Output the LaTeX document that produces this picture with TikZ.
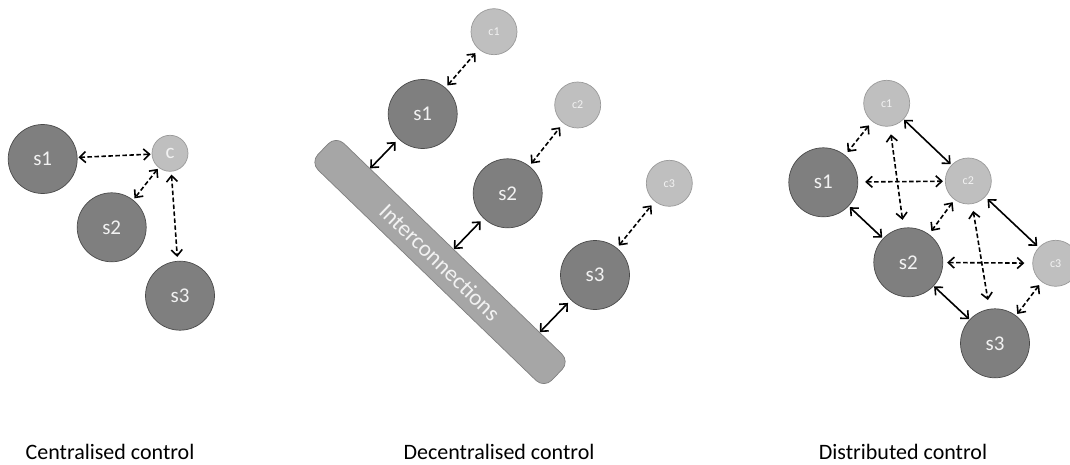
\documentclass[tikz,border=0pt]{standalone}
\usepackage{fontspec}
\setmainfont{Carlito}
\usetikzlibrary{arrows.meta,calc}
\definecolor{sfill}{HTML}{7F7F7F}
\definecolor{sborder}{HTML}{4A4A4A}
\definecolor{cfill}{HTML}{BFBFBF}
\definecolor{cborder}{HTML}{9A9A9A}
\definecolor{barfill}{HTML}{A6A6A6}
\definecolor{barborder}{HTML}{808080}
\definecolor{ltext}{HTML}{F2F2F2}
\begin{document}
\begin{tikzpicture}[x=1pt,y=-1pt,
  snode/.style={circle, draw=sborder, fill=sfill, line width=0.7pt, minimum size=69pt, inner sep=0pt, text=ltext, font=\fontsize{21}{21}\selectfont},
  cnode/.style={circle, draw=cborder, fill=cfill, line width=0.7pt, minimum size=46pt, inner sep=0pt, text=ltext, font=\fontsize{12}{12}\selectfont},
  cbig/.style={cnode, minimum size=36pt, font=\fontsize{21}{21}\selectfont},
  link/.style={{Straight Barb[length=6pt,width=11pt]}-{Straight Barb[length=6pt,width=11pt]}, line width=1.6pt, black},
  dlink/.style={link, dash pattern=on 4.5pt off 2.5pt},
  caption/.style={anchor=base, font=\fontsize{22}{22}\selectfont, text=black}
]
\useasboundingbox (0,0) rectangle (1070,465);
\clip (0,0) rectangle (1070,465);
\fill[white] (0,0) rectangle (1070,465);

% ---------------- Centralised
\node[snode] (a1) at (42.7,159) {s1};
\node[snode] (a2) at (111.7,227.3) {s2};
\node[snode] (a3) at (180,295.7) {s3};
\node[cbig]  (ac) at (170,153.3) {c};
\draw[dlink, shorten <=1pt, shorten >=1pt] (a1) -- (ac);
\draw[dlink, shorten <=1.5pt, shorten >=2pt] (ac) -- (a2);
\draw[dlink, shorten <=3pt, shorten >=4pt] (ac) -- (a3);

% ---------------- Decentralised
\node[draw=barborder, fill=barfill, line width=0.7pt, rounded corners=11pt,
      minimum width=325pt, minimum height=37pt, inner sep=0pt, rotate=-44] (bar) at (440,262) {};
\node[rotate=-44, text=ltext, font=\fontsize{23}{23}\selectfont] (bartext) at (440,262) {Interconnections};
\node[snode] (b1) at (422.7,114) {s1};
\node[snode] (b2) at (507.7,193.3) {s2};
\node[snode] (b3) at (595,275) {s3};
\node[cnode] (bc1) at (494,31.7) {c1};
\node[cnode] (bc2) at (577.7,105) {c2};
\node[cnode] (bc3) at (669.3,183.3) {c3};
\coordinate (p1) at ($(bar.north west)!(b1)!(bar.north east)$);
\coordinate (p2) at ($(bar.north west)!(b2)!(bar.north east)$);
\coordinate (p3) at ($(bar.north west)!(b3)!(bar.north east)$);
\draw[dlink, shorten <=3pt, shorten >=5pt] (b1) -- (bc1);
\draw[dlink, shorten <=3pt, shorten >=5pt] (b2) -- (bc2);
\draw[dlink, shorten <=3pt, shorten >=5pt] (b3) -- (bc3);
\draw[link, shorten >=4pt] (p1) -- (b1);
\draw[link, shorten >=4pt] (p2) -- (b2);
\draw[link, shorten >=4pt] (p3) -- (b3);

% ---------------- Distributed
\node[snode] (d1) at (823.3,182.3) {s1};
\node[snode] (d2) at (908.3,262.3) {s2};
\node[snode] (d3) at (995,343.3) {s3};
\node[cnode] (dc1) at (886.7,103.3) {c1};
\node[cnode] (dc2) at (968.3,181) {c2};
\node[cnode] (dc3) at (1055.7,263.3) {c3};
\draw[dlink, shorten <=5pt, shorten >=4pt] (dc1) -- (d1);
\draw[link, shorten <=0.5pt, shorten >=1pt] (dc1) -- (dc2);
\draw[dlink, shorten <=8pt, shorten >=8pt] (dc1) -- (d2);
\draw[dlink, shorten <=7pt, shorten >=2pt] (d1) -- (dc2);
\draw[link, shorten <=1.5pt, shorten >=1pt] (d1) -- (d2);
\draw[dlink, shorten <=3pt, shorten >=4pt] (dc2) -- (d2);
\draw[link, shorten <=3pt, shorten >=2pt] (dc2) -- (dc3);
\draw[dlink, shorten <=7pt, shorten >=9pt] (dc2) -- (d3);
\draw[dlink, shorten <=4pt, shorten >=8pt] (d2) -- (dc3);
\draw[link, shorten <=0.5pt, shorten >=0.5pt] (d2) -- (d3);
\draw[dlink, shorten <=4pt, shorten >=2pt] (dc3) -- (d3);

% ---------------- Captions
\node[caption] (cap1) at (110,459) {Centralised control};
\node[caption] (cap2) at (499,459) {Decentralised control};
\node[caption] (cap3) at (903,459) {Distributed control};
\end{tikzpicture}
\end{document}
